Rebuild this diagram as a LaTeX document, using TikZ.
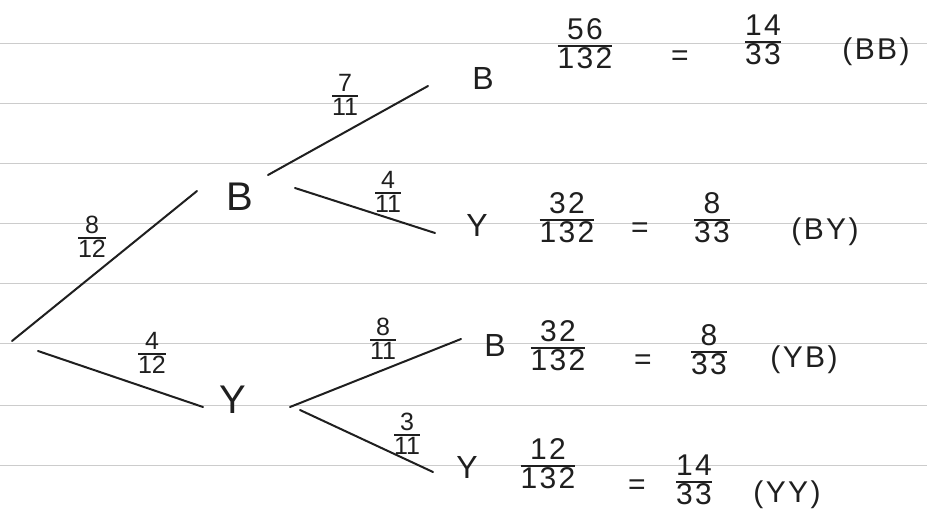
\documentclass[tikz,border=0pt]{standalone}
\usepackage{fontspec}
\setmainfont{Liberation Sans}
\newfontfamily\handwide[LetterSpace=8]{Liberation Sans}
\usepackage{array}
\setlength\arrayrulewidth{1.6pt}
\newcommand\hfrac[2]{\begin{tabular}{@{}c@{}}#1\\[-4pt]\hline\noalign{\vskip 0pt}#2\end{tabular}}
\begin{document}
\begin{tikzpicture}[x=1pt,y=-1pt,
  ruled/.style={draw=black!20, line width=0.8pt},
  pen/.style={draw=black!88, line width=2pt, line cap=round},
  bigletter/.style={font=\fontsize{40}{42}\selectfont, inner sep=0pt, text=black!88},
  letter/.style={font=\fontsize{32}{34}\selectfont, inner sep=0pt, text=black!88},
  res/.style={font=\handwide\fontsize{30}{31}\selectfont, inner sep=0pt, text=black!88},
  brl/.style={font=\fontsize{25}{26}\selectfont, inner sep=0pt, text=black!88}]
\useasboundingbox[fill=white] (0,0) rectangle (927,515);
% ruled paper
\foreach \yy in {43,103,163,223,283,343,405,465}
  \draw[ruled] (0,\yy) -- (927,\yy);
% tree nodes
\node[bigletter] (B1) at (240,197) {B};
\node[bigletter] (Y1) at (233,400) {Y};
\node[letter] (BB) at (483,78) {B};
\node[letter] (BY) at (477,225) {Y};
\node[letter] (YB) at (495,345) {B};
\node[letter] (YY) at (467,467) {Y};
% branch end points
\coordinate (rootB) at (12,341);
\coordinate (rootY) at (38,351);
\coordinate (B1in) at (197,191);
\coordinate (Y1in) at (203,407);
\coordinate (B1up) at (268,175);
\coordinate (B1dn) at (295,188);
\coordinate (BBin) at (428,86);
\coordinate (BYin) at (435,233);
\coordinate (Y1up) at (290,407);
\coordinate (Y1dn) at (300,410);
\coordinate (YBin) at (461,339);
\coordinate (YYin) at (433,472);
% branches
\draw[pen] (rootB) -- (B1in);
\draw[pen] (rootY) -- (Y1in);
\draw[pen] (B1up) -- (BBin);
\draw[pen] (B1dn) -- (BYin);
\draw[pen] (Y1up) -- (YBin);
\draw[pen] (Y1dn) -- (YYin);
% branch labels
\node[brl] (p812) at (92,240) {\hfrac{8}{12}};
\node[brl] (p412) at (152,356) {\hfrac{4}{12}};
\node[brl] (p711) at (345,98) {\hfrac{7}{11}};
\node[brl] (p411) at (388,195) {\hfrac{4}{11}};
\node[brl] (p811) at (383,342) {\hfrac{8}{11}};
\node[brl] (p311) at (407,437) {\hfrac{3}{11}};
% results row 1
\node[res] (r1a) at (585,48) {\hfrac{56}{132}};
\node[res] (r1e) at (680,58) {=};
\node[res] (r1b) at (763,44) {\hfrac{14}{33}};
\node[res] (r1c) at (876,52) {(BB)};
% row 2
\node[res] (r2a) at (567,222) {\hfrac{32}{132}};
\node[res] (r2e) at (640,230) {=};
\node[res] (r2b) at (712,222) {\hfrac{8}{33}};
\node[res] (r2c) at (825,232) {(BY)};
% row 3
\node[res] (r3a) at (558,350) {\hfrac{32}{132}};
\node[res] (r3e) at (643,362) {=};
\node[res] (r3b) at (709,354) {\hfrac{8}{33}};
\node[res] (r3c) at (804,360) {(YB)};
% row 4
\node[res] (r4a) at (548,468) {\hfrac{12}{132}};
\node[res] (r4e) at (637,487) {=};
\node[res] (r4b) at (694,484) {\hfrac{14}{33}};
\node[res] (r4c) at (787,495) {(YY)};
\end{tikzpicture}
\end{document}
